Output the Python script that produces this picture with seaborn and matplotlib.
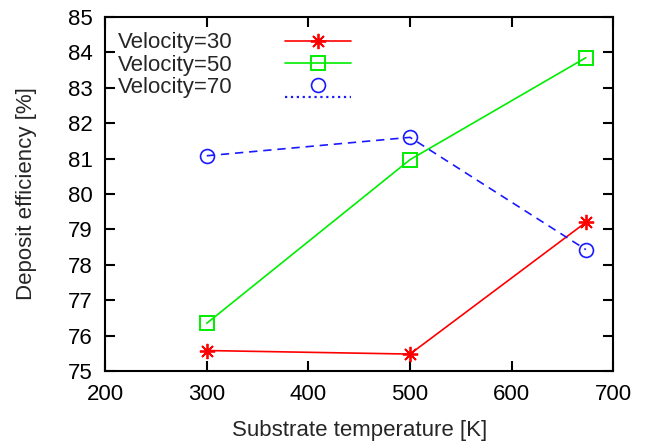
import numpy as np
import pandas as pd
import matplotlib
matplotlib.use("Agg")
import matplotlib.pyplot as plt
import seaborn as sns
from matplotlib.legend_handler import HandlerLine2DCompound

# данные
temperature = [300, 500, 673]
eff_v30 = [75.58, 75.48, 79.2]
eff_v50 = [76.35, 80.97, 83.85]
eff_v70 = [81.08, 81.6, 78.43]

sns.set_style("ticks")
plt.rcParams["font.family"] = ["Liberation Sans", "DejaVu Sans"]

df = pd.DataFrame({
    "T": temperature * 3,
    "eff": eff_v30 + eff_v50 + eff_v70,
    "series": ["Velocity=30"] * 3 + ["Velocity=50"] * 3 + ["Velocity=70"] * 3,
})

fig = plt.figure(figsize=(6.49, 4.46), dpi=100)
ax = fig.add_axes([0.162, 0.168, 0.783, 0.794])

styles = {
    "Velocity=30": dict(color="#ff0000", marker=(8, 2, 0), ls="-", ms=11, mew=1.3),
    "Velocity=50": dict(color="#00ee00", marker="s", ls="-", ms=10, mew=1.4),
    "Velocity=70": dict(color="#1a1aff", marker="o", ls=(0, (5, 3.5)), ms=10, mew=1.2),
}

for name, st in styles.items():
    sub = df[df["series"] == name]
    sns.lineplot(data=sub, x="T", y="eff", ax=ax, label=name,
                 color=st["color"], linestyle=st["ls"], linewidth=1.2,
                 marker=st["marker"], markersize=st["ms"],
                 markerfacecolor="none", markeredgecolor=st["color"],
                 markeredgewidth=st["mew"])

ax.set_xlim(200, 700)
ax.set_ylim(75, 85)
ax.set_xticks(np.arange(200, 701, 100))
ax.set_yticks(np.arange(75, 86, 1))
ax.tick_params(direction="in", top=True, right=True, length=7, width=1.5,
               labelsize=16, colors="black")
ax.tick_params(axis="x", pad=9)
ax.tick_params(axis="y", pad=9)
for s in ax.spines.values():
    s.set_linewidth(1.5)
    s.set_color("black")

ax.set_xlabel("Substrate temperature [K]", fontsize=16, labelpad=11)
ax.set_ylabel("Deposit efficiency [%]", fontsize=16, labelpad=22)


# в gnuplot-легенде третьей серии линия нарисована ниже кружка
class ShiftedLine(HandlerLine2DCompound):
    def create_artists(self, legend, orig_handle, xdescent, ydescent,
                       width, height, fontsize, trans):
        arts = super().create_artists(legend, orig_handle, xdescent, ydescent,
                                      width, height, fontsize, trans)
        line = arts[0]
        line.set_ydata(np.asarray(line.get_ydata()) - 0.75 * height)
        line.set_linestyle(":")
        line.set_linewidth(1.6)
        return arts


handles, labels = ax.get_legend_handles_labels()
leg = ax.legend(handles, labels, loc="upper left", frameon=False,
                bbox_to_anchor=(0.012, 0.975), borderaxespad=0,
                markerfirst=False, fontsize=16, handlelength=3.0,
                handletextpad=2.35, labelspacing=0.05, borderpad=0.3,
                handler_map={handles[2]: ShiftedLine()})

fig.savefig("out.png", dpi=100)
